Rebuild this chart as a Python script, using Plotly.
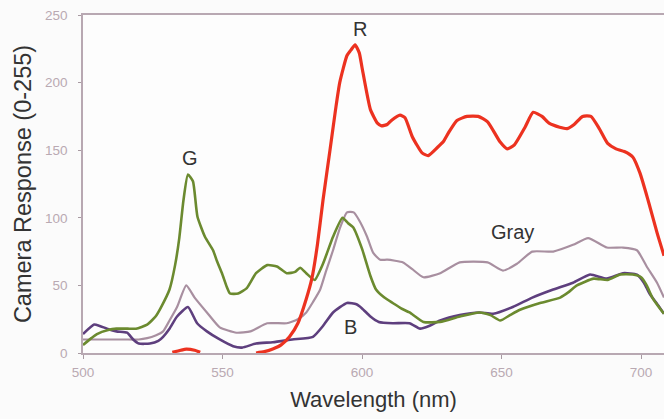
import plotly.graph_objects as go

# Red channel (two segments: small bump, main curve)
r_x = [532, 535, 537, 540, 542, None,
       562, 565, 568, 571, 574, 577, 580, 582, 584, 586, 588.5, 590.5, 592, 594.6, 596, 597.5, 599, 600,
       603, 605.5, 607, 609, 610.5, 613.6, 615.4, 618, 621.5, 623.7, 627, 629, 631, 634, 637.6, 641.6,
       645, 649.5, 652, 654.6, 658.4, 661.3, 664.5, 667, 670.8, 673.5, 676, 679, 682, 685, 688, 691,
       694, 697, 699.6, 702.5, 705.7, 708.2]
r_y = [0.5, 2, 2.8, 2, 0.5, None,
       0, 1, 3, 6, 12, 22, 40, 55, 80, 113, 150, 180, 200, 220, 224, 228, 222, 211,
       180, 170, 168, 169, 172, 176, 174, 160, 148, 146, 152, 156, 163, 172, 175, 175,
       171, 156, 151, 154, 167, 178, 175, 170, 167, 166, 169, 175, 175, 166, 155, 151,
       149, 145, 133, 113, 89, 72]

g_x = [500, 503, 505, 509, 512, 516, 519, 523, 526, 528, 531, 533, 534.5, 536, 537.6, 539.4, 541,
       543.7, 546.6, 548, 549.8, 551.5, 552.7, 555.6, 558.7, 562, 566, 569.5, 573, 576, 577.8, 580,
       583, 586, 589.6, 593, 595, 596.8, 600, 603, 605, 608, 611, 614, 617, 622, 628, 635, 642, 646,
       649.5, 653, 656.6, 663.8, 671, 674, 677, 683, 688, 692.5, 697, 700, 702, 704, 706, 708.2]
g_y = [6, 11, 14, 17, 18, 18, 18, 21, 27, 34, 47, 65, 85, 113, 132, 127, 101,
       86, 76, 68, 59, 49, 44, 44, 48, 59, 65, 64, 59, 60, 63, 59,
       54, 66, 86, 100, 96, 93, 77, 57, 47, 41, 37, 33, 30, 23, 23, 27, 30, 28,
       24, 28, 32, 37, 41, 45, 50, 55, 54, 58, 58, 56, 50, 41, 35, 29]

b_x = [500, 504, 506, 508.6, 512, 515.8, 518, 520, 524, 527, 528.7, 531, 533.7, 537.6, 540.9, 544.4,
       549, 553.8, 557, 562, 568, 575, 582.4, 586, 589.6, 594.6, 598, 600, 603, 606, 611, 617, 620.8,
       624, 628, 635, 642, 647, 654, 661, 668.5, 675.6, 681.7, 687.7, 693.5, 698.5, 701, 703, 705.5, 708.2]
b_y = [14, 21, 20, 18, 16, 15, 10, 7, 7, 9, 12, 18, 27, 34, 22, 16,
       10, 5, 4, 7, 8, 10, 12, 20, 30, 37, 36, 33, 27, 23, 22, 22, 18,
       20, 24, 28, 30, 29, 34, 41, 47, 52, 58, 55, 59, 58, 52, 44, 37, 29]

k_x = [500, 505, 510, 515, 520, 523, 526, 528.7, 531, 533.7, 537, 540, 544.4, 549, 555, 560, 566, 573,
       577, 580, 582.5, 585, 587, 589.6, 592, 594.6, 597, 599, 601.8, 604, 606.5, 609, 614.7, 618, 622,
       628, 635, 645, 650.5, 655.5, 661, 668.5, 675.6, 681, 687.7, 693.5, 698.5, 702, 705.7, 708.2]
k_y = [10, 10, 10, 10, 10, 11, 13, 16, 24, 34, 50, 41, 30, 19, 15, 16, 22, 22,
       25, 30, 38, 47, 60, 76, 92, 104, 104, 98, 86, 74, 69, 69, 67, 62, 56,
       59, 67, 67, 61, 66, 75, 75, 80, 85, 78, 78, 76, 64, 52, 41]

label_text = ["R", "G", "Gray", "B"]
label_x = [599.3, 538.4, 654, 595.7]
label_y = [240, 144, 89.5, 19]

x_ticks = [500, 550, 600, 650, 700]
y_ticks = [0, 50, 100, 150, 200, 250]

fig = go.Figure()
fig.add_trace(go.Scatter(x=k_x, y=k_y, mode="lines", line=dict(color="#a88fa0", width=2.2, shape="spline", smoothing=0.5)))
fig.add_trace(go.Scatter(x=b_x, y=b_y, mode="lines", line=dict(color="#5e3f7e", width=2.6, shape="spline", smoothing=0.5)))
fig.add_trace(go.Scatter(x=g_x, y=g_y, mode="lines", line=dict(color="#6b8a2f", width=2.6, shape="spline", smoothing=0.5)))
fig.add_trace(go.Scatter(x=r_x, y=r_y, mode="lines", connectgaps=False,
                         line=dict(color="#ec3220", width=3.2, shape="spline", smoothing=0.5)))

for t, xx, yy in zip(label_text, label_x, label_y):
    fig.add_annotation(x=xx, y=yy, text=t, showarrow=False,
                       font=dict(family="Liberation Sans, Arial", size=20, color="#333333"))

fig.update_layout(
    width=664, height=419,
    margin=dict(l=83, r=0, t=15, b=66),
    paper_bgcolor="#fbfbfb", plot_bgcolor="#fdfdfd",
    showlegend=False,
    font=dict(family="Liberation Sans, Arial"),
)
fig.update_xaxes(range=[500, 708.2], tickvals=x_ticks, ticks="outside", ticklen=4, tickcolor="#a89aa2",
                 showline=True, linecolor="#b8a8b2", linewidth=1.5, mirror=True, showgrid=False, zeroline=False,
                 tickfont=dict(size=13.5, color="#b9a9b2"), ticklabelstandoff=2,
                 title=dict(text="Wavelength (nm)", font=dict(size=22, color="#333333"), standoff=13))
fig.update_yaxes(range=[0, 250], tickvals=y_ticks, ticks="outside", ticklen=3, tickcolor="#a89aa2",
                 showline=True, linecolor="#b8a8b2", linewidth=1.5, showgrid=False, zeroline=False,
                 tickfont=dict(size=13.5, color="#b9a9b2"), ticklabelstandoff=8,
                 title=dict(text="Camera Response (0-255)", font=dict(size=23.5, color="#333333"), standoff=7))

fig.write_html("out.html")
